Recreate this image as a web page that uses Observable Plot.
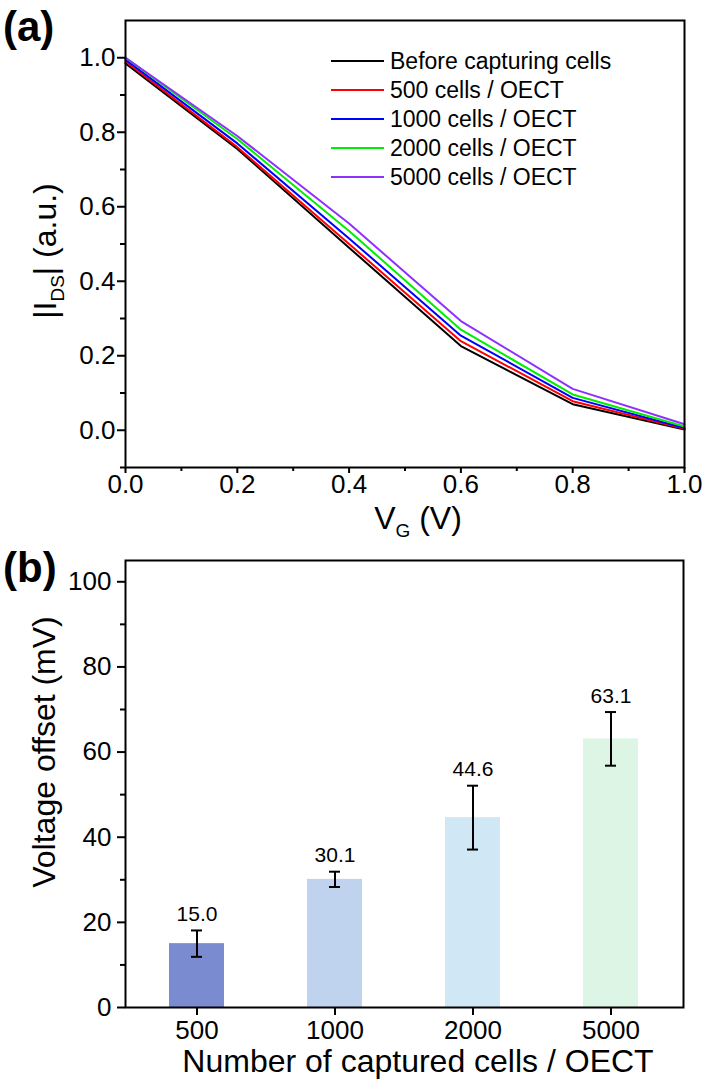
<!DOCTYPE html>
<html><head><meta charset="utf-8">
<script src="https://cdn.jsdelivr.net/npm/d3@7"></script>
<script src="https://cdn.jsdelivr.net/npm/@observablehq/plot@0.6"></script>
<style>
body{margin:0;background:#fff;}
#wrap{position:relative;width:702px;height:1081px;font-family:"Liberation Sans",Arial,sans-serif;}
#wrap svg{display:block;}
</style></head><body><div id="wrap"></div>
<script>
// ---- Panel (a) data ----
const vg = [0, 0.2, 0.4, 0.6, 0.8, 1.0];
const seriesNames = ["Before capturing cells", "500 cells / OECT", "1000 cells / OECT", "2000 cells / OECT", "5000 cells / OECT"];
const seriesColors = ["#000000", "#ff0000", "#0000ff", "#00ee00", "#9030ff"];
const idsBefore = [0.985, 0.755, 0.490, 0.226, 0.070, 0.002];
const ids500    = [0.990, 0.760, 0.500, 0.239, 0.078, 0.004];
const ids1000   = [0.995, 0.770, 0.515, 0.254, 0.087, 0.006];
const ids2000   = [1.000, 0.782, 0.535, 0.270, 0.096, 0.010];
const ids5000   = [1.000, 0.790, 0.555, 0.293, 0.111, 0.016];
const xTicksA = [0, 0.2, 0.4, 0.6, 0.8, 1.0];
const xMinorA = [0.1, 0.3, 0.5, 0.7, 0.9];
const yTicksA = [0, 0.2, 0.4, 0.6, 0.8, 1.0];
const yMinorA = [-0.1, 0.1, 0.3, 0.5, 0.7, 0.9];

// ---- Panel (b) data ----
const cells = ["500", "1000", "2000", "5000"];
const offsets = [15.0, 30.1, 44.6, 63.1];
const errs = [3.1, 1.8, 7.5, 6.3];
const barColors = ["#7a8bcf", "#bfd3ef", "#d0e7f5", "#dcf5e4"];
const yTicksB = [0, 20, 40, 60, 80, 100];
const yMinorB = [10, 30, 50, 70, 90];

const FONT = "'Liberation Sans', Arial, sans-serif";
const TICKFS = 26, TITLEFS = 32, SUBFS = 19;
const wrap = document.getElementById("wrap");

// ----- Panel (a) -----
const idsSeries = [idsBefore, ids500, ids1000, ids2000, ids5000];
const rowsA = [];
seriesNames.forEach((name, i) => vg.forEach((v, j) => rowsA.push({vg: v, ids: idsSeries[i][j], series: name})));

const plotA = Plot.plot({
  width: 702, height: 545,
  marginLeft: 125, marginRight: 18, marginTop: 20, marginBottom: 78,
  style: {fontFamily: FONT, fontSize: TICKFS + "px", color: "#000", background: "#fff"},
  x: {domain: [0, 1]},
  y: {domain: [-0.1, 1.1]},
  color: {domain: seriesNames, range: seriesColors},
  marks: [
    Plot.line(rowsA, {x: "vg", y: "ids", stroke: "series", z: "series", strokeWidth: 2}),
    Plot.frame({stroke: "#000", strokeWidth: 2}),
    Plot.axisX({ticks: xTicksA, tickFormat: d => d.toFixed(1), tickSize: 6, tickPadding: 1, strokeWidth: 2, fontSize: TICKFS, label: null}),
    Plot.axisX({ticks: xMinorA, tickFormat: () => "", tickSize: 4, strokeWidth: 2, label: null}),
    Plot.axisY({ticks: yTicksA, tickFormat: d => d.toFixed(1), tickSize: 8, tickPadding: 2, strokeWidth: 2, fontSize: TICKFS, label: null}),
    Plot.axisY({ticks: yMinorA, tickFormat: () => "", tickSize: 5, strokeWidth: 2, label: null})
  ]
});
wrap.appendChild(plotA);

{
  const svg = d3.select(plotA);
  // legend
  const lg = svg.append("g").attr("font-family", FONT).attr("font-size", 23).attr("text-anchor", "start");
  seriesNames.forEach((name, i) => {
    const y = 61 + i * 29;
    lg.append("line").attr("x1", 331).attr("x2", 384).attr("y1", y).attr("y2", y)
      .attr("stroke", seriesColors[i]).attr("stroke-width", 2);
    lg.append("text").attr("x", 390).attr("y", y).attr("dy", "0.35em").attr("fill", "#000").text(name);
  });
  // panel label
  svg.append("text").attr("x", 3).attr("y", 41).attr("text-anchor", "start").attr("font-family", FONT)
    .attr("font-size", 42).attr("font-weight", "bold").attr("fill", "#000").text("(a)");
  // x title
  const xt = svg.append("text").attr("x", 418).attr("y", 529).attr("text-anchor", "middle")
    .attr("font-family", FONT).attr("font-size", TITLEFS).attr("fill", "#000");
  xt.append("tspan").text("V");
  xt.append("tspan").attr("font-size", SUBFS).attr("dy", 8).text("G");
  xt.append("tspan").attr("dy", -8).text(" (V)");
  // y title
  const yt = svg.append("text").attr("transform", "translate(56,251) rotate(-90)").attr("text-anchor", "middle")
    .attr("font-family", FONT).attr("font-size", TITLEFS).attr("fill", "#000");
  yt.append("tspan").text("|I");
  yt.append("tspan").attr("font-size", SUBFS).attr("dy", 8).text("DS");
  yt.append("tspan").attr("dy", -8).text("| (a.u.)");
}

// ----- Panel (b) -----
const rowsB = cells.map((c, i) => ({cell: c, value: offsets[i], lo: offsets[i] - errs[i], hi: offsets[i] + errs[i]}));

const plotB = Plot.plot({
  width: 702, height: 536,
  marginLeft: 125, marginRight: 19, marginTop: 15, marginBottom: 74,
  style: {fontFamily: FONT, fontSize: TICKFS + "px", color: "#000", background: "#fff"},
  x: {type: "band", domain: cells, paddingInner: 0.6, paddingOuter: 0.31},
  y: {domain: [0, 105]},
  color: {domain: cells, range: barColors},
  marks: [
    Plot.barY(rowsB, {x: "cell", y: "value", fill: "cell"}),
    Plot.ruleX(rowsB, {x: "cell", y1: "lo", y2: "hi", stroke: "#000", strokeWidth: 2}),
    Plot.tickY(rowsB, {x: "cell", y: "lo", stroke: "#000", strokeWidth: 2, insetLeft: 22, insetRight: 22}),
    Plot.tickY(rowsB, {x: "cell", y: "hi", stroke: "#000", strokeWidth: 2, insetLeft: 22, insetRight: 22}),
    Plot.text(rowsB, {x: "cell", y: "hi", text: d => d.value.toFixed(1), dy: -16, fontSize: 21, fill: "#000"}),
    Plot.frame({stroke: "#000", strokeWidth: 2}),
    Plot.axisX({tickSize: 8, tickPadding: 5, strokeWidth: 2, fontSize: TICKFS, label: null}),
    Plot.axisY({ticks: yTicksB, tickSize: 8, tickPadding: 6, strokeWidth: 2, fontSize: TICKFS, label: null}),
    Plot.axisY({ticks: yMinorB, tickFormat: () => "", tickSize: 5, strokeWidth: 2, label: null})
  ]
});
wrap.appendChild(plotB);

{
  const svg = d3.select(plotB);
  svg.append("text").attr("x", 3).attr("y", 37).attr("text-anchor", "start").attr("font-family", FONT)
    .attr("font-size", 42).attr("font-weight", "bold").attr("fill", "#000").text("(b)");
  svg.append("text").attr("x", 418).attr("y", 527).attr("text-anchor", "middle")
    .attr("font-family", FONT).attr("font-size", TITLEFS).attr("fill", "#000").text("Number of captured cells / OECT");
  svg.append("text").attr("transform", "translate(55,207) rotate(-90)").attr("text-anchor", "middle")
    .attr("font-family", FONT).attr("font-size", TITLEFS).attr("fill", "#000").text("Voltage offset (mV)");
}
</script>
</body></html>
